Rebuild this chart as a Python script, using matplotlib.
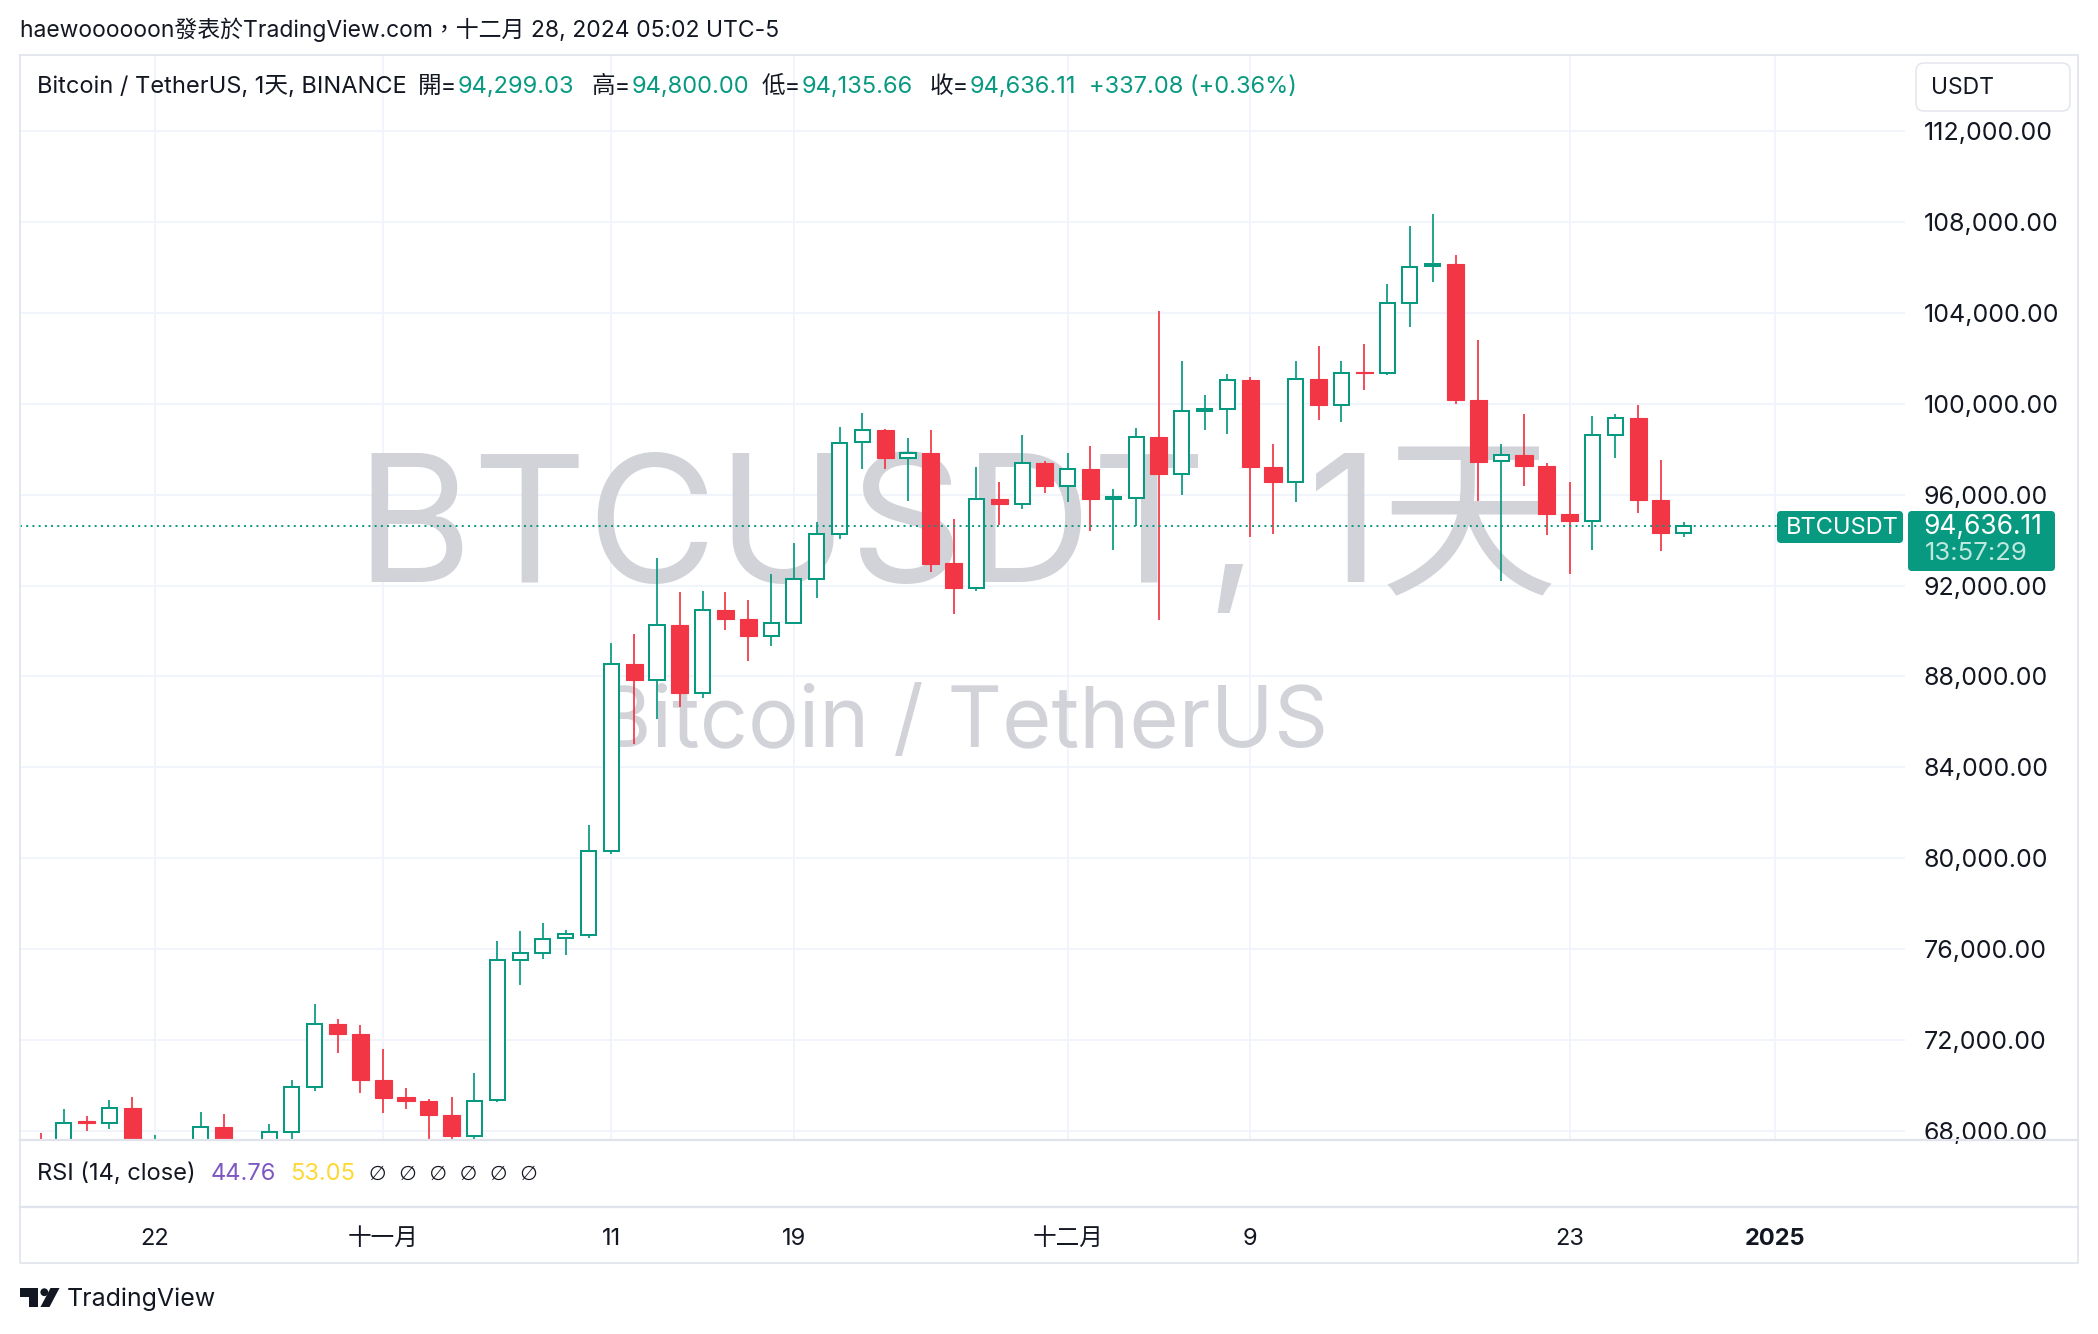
import matplotlib
matplotlib.use('Agg')
import matplotlib.pyplot as plt
import matplotlib.dates as mdates
from matplotlib.patches import Rectangle, FancyBboxPatch, Polygon, Circle
import pandas as pd

plt.rcParams['font.family'] = ['Inter', 'Noto Sans CJK TC', 'DejaVu Sans']

# ---------------- data ----------------
dates = pd.date_range('2024-10-17', '2024-12-28', freq='D')
opens = [67620, 67420, 68420, 68360, 69000, 67370, 67380, 66650, 68160, 66630, 67010, 67970, 69920, 72700, 72290,
         70260, 69480, 69340, 68720, 67800, 69360, 75530, 75830, 76510, 76620, 80320, 88560, 87860, 90280, 87270,
         90940, 90530, 89760, 90360, 92290, 94260, 98300, 98850, 97620, 97850, 92970, 91910, 95820, 95600, 97390,
         96380, 97130, 95830, 95860, 98540, 96900, 99680, 99760, 101050, 97200, 96560, 101090, 99940, 101380,
         101350, 104420, 106050, 106130, 100180, 97460, 97750, 97260, 95140, 94830, 98630, 99380, 95760, 94299.03]
highs = [67900, 68970, 68660, 69370, 69500, 67830, 67450, 68830, 68750, 67450, 68310, 70240, 73590, 72930, 72660,
         71610, 69890, 69390, 69500, 70550, 76360, 76810, 77150, 76860, 81470, 89470, 89860, 93220, 91700, 91750,
         91700, 91350, 92500, 93890, 94800, 98970, 99590, 98880, 98510, 98840, 94950, 97200, 96540, 98620, 97480,
         97820, 98130, 96270, 98950, 104060, 101870, 100400, 101320, 101190, 98250, 101870, 102530, 101870, 102620,
         105250, 107810, 108340, 106530, 102820, 98220, 99550, 97410, 96540, 99460, 99550, 99930, 97510, 94800.00]
lows = [66750, 67200, 68010, 68100, 66830, 66600, 65260, 66450, 65520, 66430, 66770, 67520, 69750, 71440, 69690,
        68800, 68980, 66800, 66500, 67450, 69290, 74410, 75550, 75730, 76480, 80210, 85030, 86110, 86650, 87070,
        90030, 88670, 89330, 90340, 91470, 94050, 97130, 97130, 95710, 92580, 90760, 91780, 94650, 95360, 96070,
        95670, 94390, 93550, 94610, 90500, 95970, 98840, 98680, 94130, 94250, 95670, 99280, 99200, 100600,
        101250, 103360, 105350, 100000, 95720, 92220, 96380, 94240, 92490, 93550, 97620, 95200, 93510, 94135.66]
closes = [67420, 68370, 68360, 69000, 67370, 67380, 66650, 68160, 66630, 67010, 67970, 69920, 72700, 72290, 70260,
          69470, 69330, 68720, 67800, 69340, 75520, 75810, 76460, 76680, 80320, 88560, 87860, 90280, 87270, 90940,
          90530, 89760, 90360, 92270, 94260, 98290, 98850, 97610, 97840, 92970, 91910, 95820, 95600, 97390, 96380,
          97130, 95800, 95880, 98540, 96900, 99680, 99760, 101050, 97200, 96560, 101090, 99940, 101350, 101350,
          104420, 106010, 106130, 100180, 97440, 97750, 97260, 95140, 94830, 98630, 99380, 95760, 94300, 94636.11]

price_ticks = list(range(68000, 112001, 4000))
date_ticks = ['2024-10-22', '2024-11-01', '2024-11-11', '2024-11-19', '2024-12-01', '2024-12-09', '2024-12-23', '2025-01-01']
date_labels = ['22', '十一月', '11', '19', '十二月', '9', '23', '2025']
last_price = 94636.11

# ---------------- style ----------------
UP = '#089981'
DOWN = '#F23645'
TXT = '#131722'
GRID = '#f0f3fa'
SEP = '#e0e3eb'
WM = '#d1d3d9'
W, H = 2098, 1334

fig = plt.figure(figsize=(W / 100, H / 100), dpi=100)
fig.patch.set_facecolor('white')


def box(x0, y0, x1, y1):
    return [x0 / W, 1 - y1 / H, (x1 - x0) / W, (y1 - y0) / H]


# price pane
ax = fig.add_axes(box(20, 55, 1905, 1140))
xd = mdates.date2num(dates.to_pydatetime())
ref = mdates.date2num(pd.Timestamp('2024-10-22').to_pydatetime())
ax.set_xlim(ref - 5.92, ref + 76.7)
ax.set_ylim(67604, 115344)
for s in ax.spines.values():
    s.set_visible(False)
ax.set_yticks(price_ticks)
ax.set_yticklabels([f'{v:,.2f}' for v in price_ticks])
ax.yaxis.tick_right()
ax.tick_params(axis='y', length=0, pad=13.5, labelsize=18, labelcolor=TXT)
ax.set_xticks(mdates.date2num([pd.Timestamp(d).to_pydatetime() for d in date_ticks]))
ax.tick_params(axis='x', length=0, labelbottom=False)
ax.grid(True, color=GRID, lw=1.3, zorder=0)
ax.set_axisbelow(True)

# watermark
ax.text(0.497, 0.514, 'BTCUSDT, 1天', transform=ax.transAxes, ha='center', va='baseline',
        fontsize=128, color=WM, zorder=1)
ax.text(0.500, 0.362, 'Bitcoin / TetherUS', transform=ax.transAxes, ha='center', va='baseline',
        fontsize=61, color=WM, zorder=1)

# candles
for x, o, h, l, c in zip(xd, opens, highs, lows, closes):
    up = c >= o
    col = UP if up else DOWN
    ax.vlines(x, l, h, color=col, lw=1.25, zorder=3)
    if up:
        w = 0.66
        ax.add_patch(Rectangle((x - w / 2, o), w, max(c - o, 1), facecolor='white', edgecolor=col,
                               lw=1.45, zorder=4))
    else:
        w = 0.75
        ax.add_patch(Rectangle((x - w / 2, c), w, max(o - c, 1), facecolor=col, edgecolor=col,
                               lw=0.8, zorder=4))

ax.axhline(last_price, xmin=0, xmax=(1777 - 20) / 1885, color=UP, lw=1.4, ls=(0, (1, 2.2)), zorder=5)

# date axis (invisible axes used for labels)
axd = fig.add_axes(box(20, 1207, 1905, 1225))
axd.set_xlim(ax.get_xlim())
axd.set_ylim(0, 1)
axd.patch.set_alpha(0)
for s in axd.spines.values():
    s.set_visible(False)
axd.set_yticks([])
axd.set_xticks(ax.get_xticks())
axd.set_xticklabels(date_labels)
axd.tick_params(axis='x', length=0, pad=2, labelsize=17, labelcolor=TXT)
for lbl in axd.get_xticklabels():
    if lbl.get_text() == '2025':
        lbl.set_fontweight('bold')

# ---------------- overlay chrome ----------------
ov = fig.add_axes([0, 0, 1, 1], zorder=10)
ov.set_xlim(0, W)
ov.set_ylim(H, 0)
ov.axis('off')
ov.patch.set_alpha(0)

# frame
ov.plot([20, 2078, 2078, 20, 20], [55, 55, 1263, 1263, 55], color=SEP, lw=1.2)
ov.plot([20, 2078], [1140, 1140], color=SEP, lw=1.6)
ov.plot([20, 2078], [1207, 1207], color=SEP, lw=1.6)

# USDT button
ov.add_patch(FancyBboxPatch((1916, 63), 154, 48, boxstyle='round,pad=0,rounding_size=8',
                            facecolor='white', edgecolor=SEP, lw=1.0))
ov.text(1931, 88, 'USDT', fontsize=16.5, color=TXT, va='center', ha='left')

# last price labels
ov.add_patch(FancyBboxPatch((1777, 511), 126, 32, boxstyle='round,pad=0,rounding_size=4',
                            facecolor=UP, edgecolor='none'))
ov.text(1786, 528, 'BTCUSDT', fontsize=17, color='white', va='center', ha='left')
ov.add_patch(FancyBboxPatch((1908, 511), 147, 60, boxstyle='round,pad=0,rounding_size=4',
                            facecolor=UP, edgecolor='none'))
ov.text(1923, 527, f'{last_price:,.2f}', fontsize=19, color='white', va='center', ha='left')
ov.text(1925, 554, '13:57:29', fontsize=18.5, color='#bfe8df', va='center', ha='left')

fig.canvas.draw()
rend = fig.canvas.get_renderer()


def seq(x, y, pieces, size):
    for s, c in pieces:
        t = ov.text(x, y, s, fontsize=size, color=c, va='center', ha='left')
        x += t.get_window_extent(renderer=rend).width
    return x


# title
ov.text(20, 30, 'haewoooooon發表於TradingView.com，十二月 28, 2024 05:02 UTC-5', fontsize=16.5,
        color=TXT, va='center', ha='left')

# legend line
LY = 87
FS = 17
ov.text(37, LY, 'Bitcoin / TetherUS, 1天, BINANCE', fontsize=FS, color=TXT, va='center', ha='left')
seq(418, LY, [('開=', TXT), (f'{opens[-1]:,.2f}', UP)], FS)
seq(592, LY, [('高=', TXT), (f'{highs[-1]:,.2f}', UP)], FS)
seq(762, LY, [('低=', TXT), (f'{lows[-1]:,.2f}', UP)], FS)
seq(930, LY, [('收=', TXT), (f'{closes[-1]:,.2f}', UP)], FS)
chg = closes[-1] - opens[-1]
ov.text(1089, LY, f'+{chg:,.2f} (+{chg / opens[-1] * 100:.2f}%)', fontsize=FS, color=UP,
        va='center', ha='left')

# RSI legend
RY = 1174
ov.text(37, RY, 'RSI (14, close)', fontsize=FS, color=TXT, va='center', ha='left')
ov.text(211, RY, '44.76', fontsize=FS, color='#7E57C2', va='center', ha='left')
ov.text(290, RY, '53.05', fontsize=FS, color='#FDD835', va='center', ha='left')
ov.text(369, RY, '∅  ∅  ∅  ∅  ∅  ∅', fontsize=14.5, color=TXT, va='center', ha='left',
        family=['DejaVu Sans'])

# TradingView footer logo
ov.add_patch(Polygon([(20, 1288), (37.5, 1288), (37.5, 1307), (28.7, 1307), (28.7, 1296.5), (20, 1296.5)],
                     closed=True, facecolor=TXT, edgecolor='none'))
ov.add_patch(Circle((44.3, 1292.2), 3.9, facecolor=TXT, edgecolor='none'))
ov.add_patch(Polygon([(40.5, 1307), (50.5, 1288), (59.5, 1288), (49.5, 1307)], closed=True,
                     facecolor=TXT, edgecolor='none'))
ov.text(67, 1299, 'TradingView', fontsize=18, color=TXT, va='center', ha='left')

fig.savefig('out.png', dpi=100, facecolor='white')
